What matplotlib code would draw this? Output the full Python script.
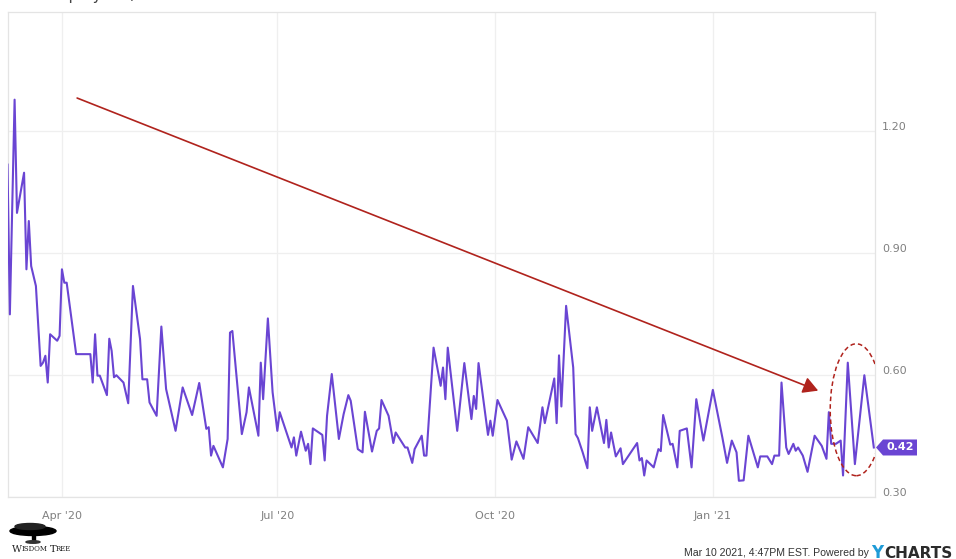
import numpy as np
import pandas as pd
import matplotlib
matplotlib.use("Agg")
import matplotlib.pyplot as plt
import matplotlib.dates as mdates
import matplotlib.transforms as mtransforms
from matplotlib.patches import Ellipse, Polygon, Rectangle

# ratio series, vertices
dates = [
    '2020-03-09', '2020-03-10', '2020-03-12', '2020-03-13', '2020-03-16', '2020-03-17', '2020-03-18', '2020-03-19', '2020-03-21', '2020-03-23',
    '2020-03-24', '2020-03-25', '2020-03-26', '2020-03-27', '2020-03-30', '2020-03-31', '2020-04-01', '2020-04-02', '2020-04-03', '2020-04-07',
    '2020-04-13', '2020-04-14', '2020-04-15', '2020-04-16', '2020-04-17', '2020-04-20', '2020-04-21', '2020-04-22', '2020-04-23', '2020-04-24',
    '2020-04-27', '2020-04-29', '2020-05-01', '2020-05-04', '2020-05-05', '2020-05-07', '2020-05-08', '2020-05-11', '2020-05-13', '2020-05-15',
    '2020-05-19', '2020-05-22', '2020-05-26', '2020-05-29', '2020-06-01', '2020-06-02', '2020-06-03', '2020-06-04', '2020-06-08', '2020-06-10',
    '2020-06-11', '2020-06-12', '2020-06-16', '2020-06-18', '2020-06-19', '2020-06-23', '2020-06-24', '2020-06-25', '2020-06-27', '2020-06-29',
    '2020-07-01', '2020-07-02', '2020-07-07', '2020-07-08', '2020-07-09', '2020-07-11', '2020-07-13', '2020-07-14', '2020-07-15', '2020-07-16',
    '2020-07-20', '2020-07-21', '2020-07-22', '2020-07-24', '2020-07-27', '2020-07-29', '2020-07-31', '2020-08-01', '2020-08-04', '2020-08-06',
    '2020-08-07', '2020-08-10', '2020-08-12', '2020-08-13', '2020-08-14', '2020-08-17', '2020-08-19', '2020-08-20', '2020-08-24', '2020-08-25',
    '2020-08-27', '2020-08-28', '2020-08-31', '2020-09-01', '2020-09-02', '2020-09-05', '2020-09-08', '2020-09-09', '2020-09-10', '2020-09-11',
    '2020-09-15', '2020-09-18', '2020-09-21', '2020-09-22', '2020-09-23', '2020-09-24', '2020-09-28', '2020-09-29', '2020-09-30', '2020-10-02',
    '2020-10-06', '2020-10-08', '2020-10-10', '2020-10-13', '2020-10-15', '2020-10-19', '2020-10-21', '2020-10-22', '2020-10-24', '2020-10-26',
    '2020-10-27', '2020-10-28', '2020-10-29', '2020-10-31', '2020-11-03', '2020-11-04', '2020-11-05', '2020-11-07', '2020-11-09', '2020-11-10',
    '2020-11-11', '2020-11-13', '2020-11-16', '2020-11-17', '2020-11-18', '2020-11-19', '2020-11-21', '2020-11-23', '2020-11-24', '2020-11-30',
    '2020-12-01', '2020-12-02', '2020-12-03', '2020-12-04', '2020-12-07', '2020-12-09', '2020-12-10', '2020-12-11', '2020-12-14', '2020-12-15',
    '2020-12-17', '2020-12-18', '2020-12-21', '2020-12-23', '2020-12-25', '2020-12-28', '2021-01-01', '2021-01-05', '2021-01-07', '2021-01-09',
    '2021-01-11', '2021-01-12', '2021-01-14', '2021-01-16', '2021-01-20', '2021-01-21', '2021-01-24', '2021-01-26', '2021-01-27', '2021-01-29',
    '2021-01-30', '2021-02-01', '2021-02-02', '2021-02-04', '2021-02-05', '2021-02-06', '2021-02-08', '2021-02-10', '2021-02-13', '2021-02-16',
    '2021-02-18', '2021-02-19', '2021-02-20', '2021-02-22', '2021-02-24', '2021-02-25', '2021-02-27', '2021-03-02', '2021-03-06', '2021-03-10',
]
values = [
    1.118, 0.749, 1.278, 0.999, 1.098, 0.860, 0.979, 0.868, 0.819, 0.622,
    0.630, 0.647, 0.581, 0.700, 0.684, 0.696, 0.860, 0.827, 0.827, 0.651,
    0.651, 0.581, 0.700, 0.598, 0.598, 0.550, 0.689, 0.659, 0.594, 0.599,
    0.581, 0.530, 0.819, 0.688, 0.589, 0.589, 0.532, 0.499, 0.719, 0.565,
    0.462, 0.569, 0.501, 0.580, 0.467, 0.471, 0.401, 0.425, 0.372, 0.442,
    0.704, 0.708, 0.454, 0.508, 0.569, 0.450, 0.630, 0.540, 0.739, 0.557,
    0.462, 0.508, 0.421, 0.446, 0.401, 0.460, 0.413, 0.430, 0.380, 0.468,
    0.452, 0.389, 0.499, 0.602, 0.442, 0.503, 0.550, 0.536, 0.417, 0.409,
    0.509, 0.411, 0.462, 0.468, 0.538, 0.499, 0.432, 0.458, 0.421, 0.421,
    0.383, 0.417, 0.450, 0.401, 0.401, 0.667, 0.573, 0.618, 0.540, 0.667,
    0.462, 0.629, 0.491, 0.548, 0.516, 0.629, 0.452, 0.487, 0.450, 0.538,
    0.487, 0.391, 0.436, 0.393, 0.471, 0.432, 0.520, 0.481, 0.536, 0.591,
    0.481, 0.648, 0.522, 0.770, 0.618, 0.454, 0.444, 0.409, 0.370, 0.520,
    0.462, 0.520, 0.432, 0.489, 0.421, 0.458, 0.399, 0.419, 0.380, 0.432,
    0.389, 0.395, 0.352, 0.389, 0.372, 0.417, 0.412, 0.501, 0.428, 0.430,
    0.372, 0.462, 0.468, 0.372, 0.540, 0.438, 0.563, 0.446, 0.383, 0.438,
    0.409, 0.339, 0.340, 0.450, 0.372, 0.399, 0.399, 0.380, 0.401, 0.401,
    0.581, 0.421, 0.405, 0.430, 0.413, 0.421, 0.401, 0.361, 0.450, 0.425,
    0.393, 0.508, 0.430, 0.430, 0.438, 0.352, 0.630, 0.380, 0.599, 0.421,
]

x_ticks = ['2020-04-01', '2020-07-01', '2020-10-01', '2021-01-01']
x_tick_labels = ["Apr '20", "Jul '20", "Oct '20", "Jan '21"]
y_ticks = [0.30, 0.60, 0.90, 1.20]

# annotation drawn on the screenshot
arrow_start = ('2020-04-07 10:00', 1.282)
arrow_end = ('2021-02-14 12:00', 0.561)
ring_center = ('2021-03-02 14:00', 0.514)
ring_days, ring_height = 22, 0.325

line_color = '#6a45d3'
red = '#b0231d'
W, H = 956, 559

fig = plt.figure(figsize=(W / 100, H / 100), dpi=100)
ax = fig.add_axes([7.5 / W, 1 - 497 / H, (875 - 7.5) / W, (497 - 12) / H])

t = pd.to_datetime(dates)
ax.plot(t, values, color=line_color, lw=1.5, solid_joinstyle='round', zorder=3)

ax.set_xlim(pd.Timestamp('2020-03-09'), pd.Timestamp('2021-03-10 12:00'))
ax.set_ylim(0.299, 1.494)

ax.set_xticks(pd.to_datetime(x_ticks))
ax.set_xticklabels(x_tick_labels)
ax.set_yticks(y_ticks)
ax.set_yticklabels(['%.2f' % v for v in y_ticks])
ax.yaxis.tick_right()
ax.tick_params(axis='both', length=0, colors='#808080', labelsize=8)
ax.tick_params(axis='x', pad=10)
ax.tick_params(axis='y', pad=5)
up = mtransforms.ScaledTranslation(0, 5 / 100, fig.dpi_scale_trans)
for lab in ax.get_yticklabels():
    lab.set_transform(lab.get_transform() + up)

ax.grid(True, color='#efefef', lw=0.9)
ax.set_axisbelow(True)
for s in ax.spines.values():
    s.set_color('#e4e4e4')
    s.set_linewidth(0.9)

# red trend arrow
ax.annotate('', xy=(mdates.date2num(pd.Timestamp(arrow_end[0])), arrow_end[1]),
            xytext=(mdates.date2num(pd.Timestamp(arrow_start[0])), arrow_start[1]),
            arrowprops=dict(arrowstyle='-|>,head_length=0.45,head_width=0.25',
                            color=red, lw=1.2, mutation_scale=20,
                            shrinkA=0, shrinkB=0), zorder=4)

# dashed ring round the last weeks
ring = Ellipse((mdates.date2num(pd.Timestamp(ring_center[0])), ring_center[1]),
               ring_days, ring_height, fill=False, edgecolor=red, lw=1.1,
               ls=(0, (3, 2)), zorder=5)
ax.add_patch(ring)

# last value tag
fig.canvas.draw()
px, py = ax.transData.transform((mdates.date2num(t[-1]), values[-1]))
bx0 = ax.transAxes.transform((1, 0))[0]
tag = [(bx0 + 1, py), (bx0 + 8, py + 8), (bx0 + 42, py + 8),
       (bx0 + 42, py - 8), (bx0 + 8, py - 8)]
fig.patches.append(Polygon([(a / W, b / H) for a, b in tag], closed=True,
                           transform=fig.transFigure, facecolor=line_color,
                           edgecolor='none'))
fig.text((bx0 + 25) / W, py / H, '%.2f' % values[-1], color='white',
         fontsize=8, fontweight='bold', ha='center', va='center')

# heading, mostly cut off at the top edge
fig.text(6 / W, 1.0, 'CBOE Equity Put/Call Ratio', fontsize=11,
         color='#444444', va='baseline')

# footer
fig.text(869 / W, 1 - 553 / H, 'Mar 10 2021, 4:47PM EST. Powered by',
         fontsize=7.6, family='Liberation Sans', color='#333333',
         ha='right', va='center')
fig.text(871 / W, 1 - 553 / H, 'Y', fontsize=12, fontweight='bold',
         color='#1e9bd7', ha='left', va='center')
fig.text(884 / W, 1 - 553 / H, 'CHARTS', fontsize=11, fontweight='bold',
         color='#2b2b2b', ha='left', va='center')

# WisdomTree logo
def fpatch(p):
    p.set_transform(fig.transFigure)
    fig.patches.append(p)

fpatch(Ellipse((33 / W, 1 - 531 / H), 46 / W, 9 / H, color='black'))
fpatch(Ellipse((30 / W, 1 - 526.5 / H), 30 / W, 6 / H, color='#222222'))
fpatch(Rectangle((31.5 / W, 1 - 542 / H), 3 / W, 9 / H, color='black'))
fpatch(Ellipse((33 / W, 1 - 542 / H), 14 / W, 2.5 / H, color='#333333'))
fig.text(12 / W, 1 - 549 / H, 'W', fontsize=7, family='DejaVu Serif',
         color='#222222', va='center')
fig.text(22 / W, 1 - 549 / H, 'ISDOM', fontsize=5, family='DejaVu Serif',
         color='#222222', va='center')
fig.text(50 / W, 1 - 549 / H, 'T', fontsize=7, family='DejaVu Serif',
         color='#222222', va='center')
fig.text(56 / W, 1 - 549 / H, 'REE', fontsize=5, family='DejaVu Serif',
         color='#222222', va='center')

fig.savefig('out.png', dpi=100, facecolor='white')
